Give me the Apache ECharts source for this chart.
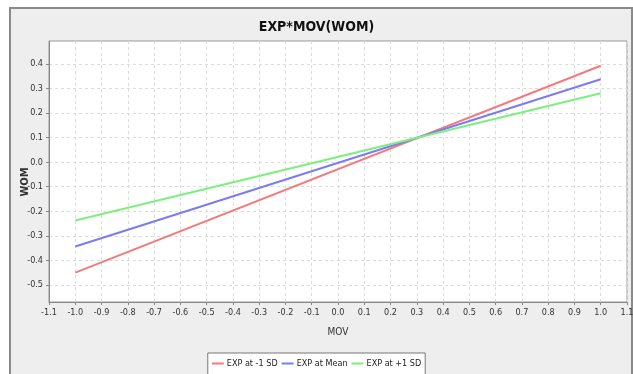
<!DOCTYPE html>
<html><head><meta charset="utf-8">
<script src="https://cdn.jsdelivr.net/npm/echarts@6/dist/echarts.min.js"></script>
<style>html,body{margin:0;padding:0;background:#fff}#c{width:633px;height:374px}</style>
</head><body><div id="c"></div>
<script>
const xEnds = [-1.0, 1.0];
const seriesNames = ['EXP at -1 SD', 'EXP at Mean', 'EXP at +1 SD'];
const lowSD = [-0.45, 0.393];
const meanSD = [-0.344, 0.338];
const highSD = [-0.238, 0.281];
const yTicks = [-0.5, -0.4, -0.3, -0.2, -0.1, 0.0, 0.1, 0.2, 0.3, 0.4];
const xTicks = [-1.1,-1.0,-0.9,-0.8,-0.7,-0.6,-0.5,-0.4,-0.3,-0.2,-0.1,0.0,0.1,0.2,0.3,0.4,0.5,0.6,0.7,0.8,0.9,1.0,1.1];
const colors = ['#f47a7a', '#7b7bf7', '#7cf07c'];
const FONT = '"DejaVu Sans Condensed","Liberation Sans Narrow",Arial,sans-serif';

function pairs(ys){ return xEnds.map((x,i)=>[x, ys[i]]); }
const chart = echarts.init(document.getElementById('c'));
chart.setOption({
  animation:false,
  backgroundColor:'#ffffff',
  graphic:[
    {type:'rect', z:-10, shape:{x:10,y:8,width:622,height:380}, style:{fill:'#eeeeee', stroke:'#8a8a8a', lineWidth:2}},
    {type:'text', x:25, y:182, rotation:Math.PI/2, style:{text:'WOM', font:'bold 11px "DejaVu Sans Condensed",sans-serif', fill:'#333', align:'center', verticalAlign:'middle'}}
  ],
  title:{text:'EXP*MOV(WOM)', left:'center', top:15, textStyle:{fontFamily:FONT, fontSize:14, fontWeight:'bold', color:'#111'}},
  legend:{data:seriesNames, bottom:-6, left:'center', itemWidth:12, itemHeight:2, itemGap:4, icon:'rect',
    padding:[6,4,12,4], borderColor:'#777', borderWidth:1, backgroundColor:'#fff', borderRadius:0,
    textStyle:{fontFamily:FONT, fontSize:9, color:'#222', padding:[0,0,0,-2]}},
  grid:{left:49, right:6, top:41, bottom:72, outerBoundsMode:'none', containLabel:false, show:true, backgroundColor:'#fff', borderColor:'#999', borderWidth:1},
  xAxis:{type:'value', min:-1.1, max:1.1, interval:0.1, name:'MOV', nameLocation:'middle', nameGap:25,
    nameTextStyle:{fontFamily:FONT, fontSize:10, color:'#333'},
    axisLine:{show:true, onZero:false, lineStyle:{color:'#888'}},
    axisTick:{show:true, length:3, lineStyle:{color:'#888'}},
    axisLabel:{fontFamily:FONT, fontSize:9, color:'#333', margin:6, showMinLabel:true, showMaxLabel:true, hideOverlap:false,
      formatter:v=>v.toFixed(1), customValues:xTicks},
    splitLine:{show:true, lineStyle:{color:'#dcdcdc', type:[3,3]}}},
  yAxis:{type:'value', min:-0.57, max:0.494,
    axisLine:{show:true, onZero:false, lineStyle:{color:'#888'}},
    axisTick:{show:true, length:3, customValues:yTicks, lineStyle:{color:'#888'}},
    axisLabel:{fontFamily:FONT, fontSize:9, color:'#333', margin:6, customValues:yTicks, formatter:v=>v.toFixed(1)},
    splitLine:{show:true, lineStyle:{color:'#dcdcdc', type:[3,3]}}},
  series:[
    {name:seriesNames[0], type:'line', data:pairs(lowSD), symbol:'none', lineStyle:{width:2, color:colors[0]}, itemStyle:{color:colors[0]}},
    {name:seriesNames[1], type:'line', data:pairs(meanSD), symbol:'none', lineStyle:{width:2, color:colors[1]}, itemStyle:{color:colors[1]}},
    {name:seriesNames[2], type:'line', data:pairs(highSD), symbol:'none', lineStyle:{width:2, color:colors[2]}, itemStyle:{color:colors[2]}}
  ]
});
</script></body></html>
